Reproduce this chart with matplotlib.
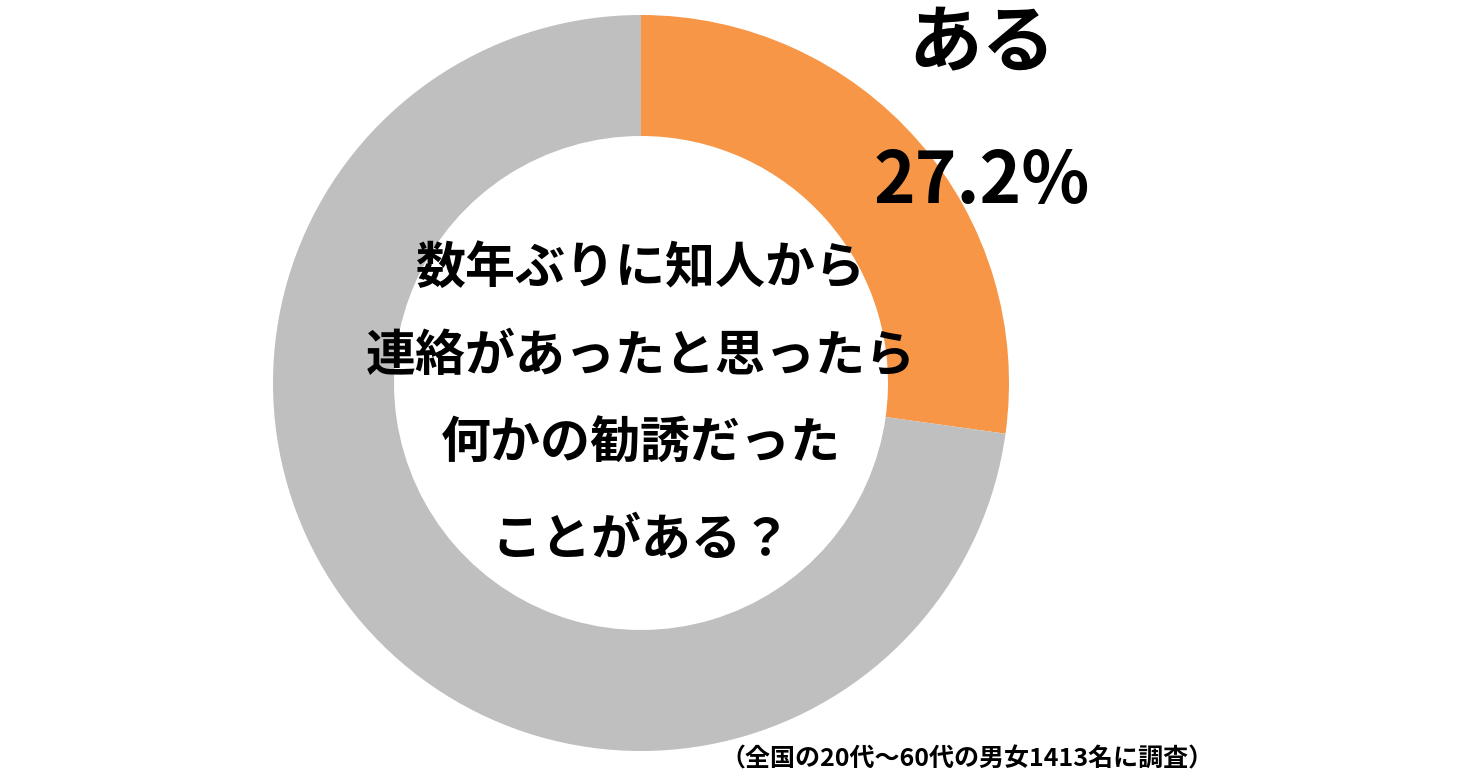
import matplotlib
matplotlib.use("Agg")
import matplotlib.pyplot as plt

labels = ["ある", "ない"]
values = [27.2, 72.8]
colors = ["#F79646", "#BFBFBF"]
center_lines = ["数年ぶりに知人から", "連絡があったと思ったら", "何かの勧誘だった", "ことがある？"]
label_text = "ある"
pct_text = "27.2%"
footnote = "（全国の20代～60代の男女1413名に調査）"

plt.rcParams['font.family'] = ['Noto Sans CJK JP', 'DejaVu Sans']

W, H = 1475, 776
fig = plt.figure(figsize=(W / 100, H / 100), dpi=100)
ax = fig.add_axes([0, 0, 1, 1])
ax.set_xlim(0, W)
ax.set_ylim(0, H)
ax.set_aspect('equal')
ax.axis('off')

cx, cy = 641, H - 383
R = 368
ax.pie(values, colors=colors, startangle=90, counterclock=False,
       center=(cx, cy), radius=R,
       wedgeprops=dict(width=R - 247, linewidth=0))
ax.set_xlim(0, W)
ax.set_ylim(0, H)

ys = [268, 356, 443, 540]
for line, y in zip(center_lines, ys):
    ax.text(641, H - y, line, ha='center', va='center', fontsize=36, fontweight='bold', color='black')

ax.text(982, H - 45, label_text, ha='center', va='center', fontsize=53, fontweight='bold', color='black')
ax.text(982, H - 182, pct_text, ha='center', va='center', fontsize=51, fontweight='bold', color='black')
ax.text(967, H - 759, footnote, ha='center', va='center', fontsize=18, fontweight='bold', color='black')

fig.savefig("out.png", dpi=100)
